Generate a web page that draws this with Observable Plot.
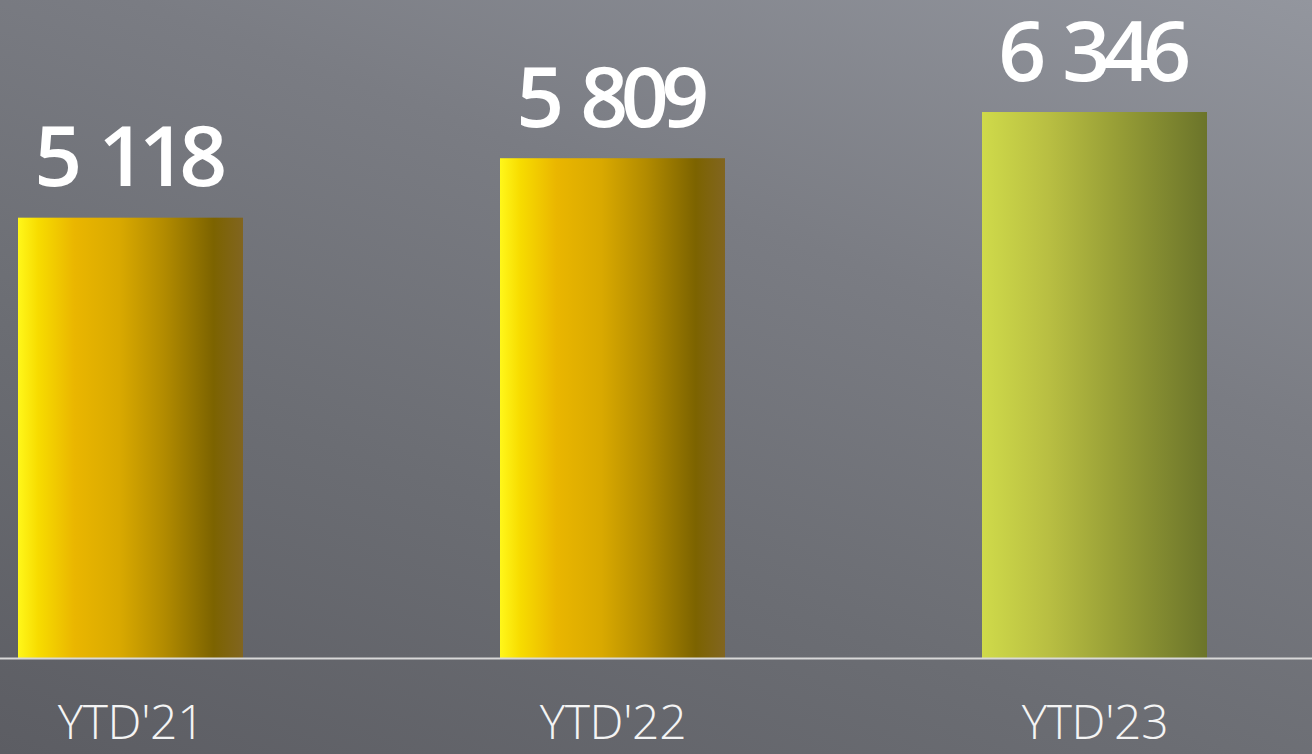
<!DOCTYPE html>
<html>
<head>
<meta charset="utf-8">
<script src="https://cdn.jsdelivr.net/npm/d3@7"></script>
<script src="https://cdn.jsdelivr.net/npm/@observablehq/plot@0.6"></script>
<style>
  html, body { margin: 0; padding: 0; background: #6f7176; }
  #chart svg { display: block; }
  .xlab text { font-family: 'Open Sans', sans-serif; font-weight: 300; letter-spacing: -0.3px; }
  .vlab text { font-family: 'Open Sans', sans-serif; font-weight: 600; letter-spacing: -7.5px; word-spacing: 9px; }
</style>
</head>
<body>
<div id="chart"></div>
<script>
const categories = ["YTD'21", "YTD'22", "YTD'23"];
const values = [5118, 5809, 6346];
const valueLabels = ["5 118", "5 809", "6 346"];
const barStyle = ["gold", "gold", "olive"];

const data = categories.map((c, i) => ({ cat: c, value: values[i], label: valueLabels[i], style: barStyle[i] }));
const fillFor = d => d.style === "gold" ? "url(#gradGold)" : "url(#gradOlive)";

const chart = Plot.plot({
  width: 1312,
  height: 754,
  marginTop: 0,
  marginBottom: 96,
  marginLeft: 0,
  marginRight: 0,
  style: {
    fontFamily: "'Open Sans', sans-serif",
    color: "#ffffff",
    background: "linear-gradient(20deg, #5c5d63 0%, #6b6d73 35%, #7a7c83 65%, #93969e 100%)"
  },
  x: { domain: categories, range: [17, 1208], paddingInner: 0.534, paddingOuter: 0, label: null },
  y: { domain: [0, 7648], axis: null },
  color: { type: "identity" },
  marks: [
    Plot.barY(data, { x: "cat", y: "value", fill: fillFor }),
    Plot.ruleY([0], { stroke: "#d8d8d8", strokeWidth: 2 }),
    Plot.text(data, { x: "cat", y: "value", text: "label", dx: -4, dy: -32, lineAnchor: "bottom", fill: "#ffffff", fontSize: 84, className: "vlab" }),
    Plot.axisX({ tickSize: 0, tickPadding: 46, fontSize: 48, fill: "#f4f4f4", label: null, className: "xlab" })
  ]
});

const ns = "http://www.w3.org/2000/svg";
const defs = document.createElementNS(ns, "defs");
function addGrad(id, stops) {
  const g = document.createElementNS(ns, "linearGradient");
  g.setAttribute("id", id);
  g.setAttribute("x1", "0"); g.setAttribute("x2", "1"); g.setAttribute("y1", "0"); g.setAttribute("y2", "0");
  stops.forEach(([o, c]) => {
    const s = document.createElementNS(ns, "stop");
    s.setAttribute("offset", o);
    s.setAttribute("stop-color", c);
    g.appendChild(s);
  });
  defs.appendChild(g);
}
addGrad("gradGold", [[0, "#fff71a"], [0.09, "#f7dc00"], [0.25, "#eab600"], [0.45, "#d9a900"], [0.65, "#b28b00"], [0.87, "#7c6300"], [1, "#816520"]]);
addGrad("gradOlive", [[0, "#cfda4a"], [0.3, "#b8be42"], [0.6, "#979e36"], [1, "#6b742a"]]);
chart.insertBefore(defs, chart.firstChild);

document.getElementById("chart").appendChild(chart);
</script>
</body>
</html>
